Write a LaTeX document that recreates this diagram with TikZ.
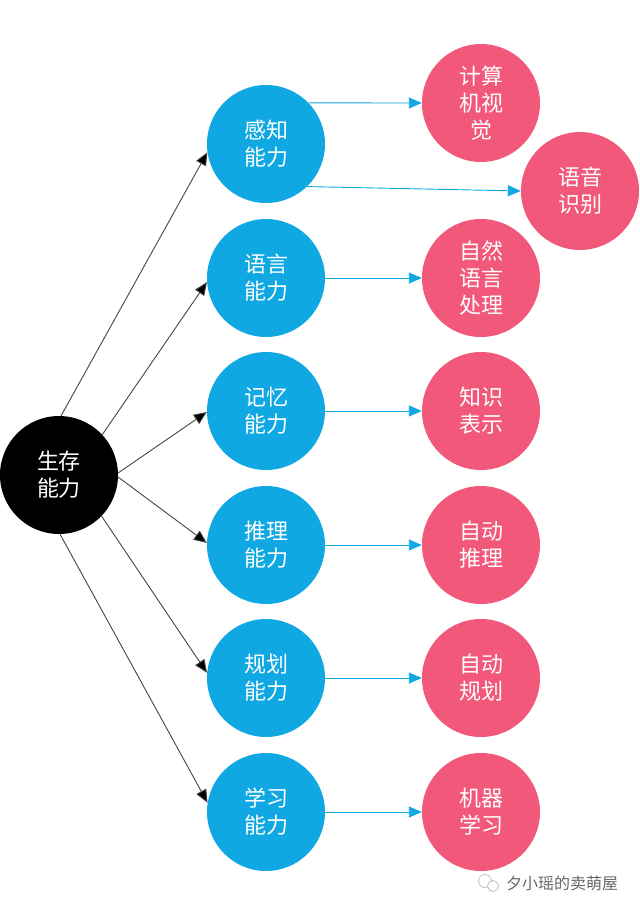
\documentclass[tikz,border=0pt]{standalone}
\usepackage{fontspec}
\newfontfamily\cjk{Noto Sans CJK SC}
\usetikzlibrary{arrows.meta}
\definecolor{bblue}{RGB}{16,168,226}
\definecolor{ppink}{RGB}{242,88,122}
\definecolor{lgray}{RGB}{68,68,68}
\tikzset{
  circ/.style={circle,minimum size=118pt,inner sep=0pt,align=center,text=white,
    font=\cjk\fontsize{22}{27}\selectfont},
  blk/.style={circ,fill=black},
  blu/.style={circ,fill=bblue},
  pnk/.style={circ,fill=ppink},
  karrow/.style={draw=lgray,line width=0.9pt,-{Triangle[length=13pt,width=11pt,fill=black]}},
  barrow/.style={draw=bblue,line width=0.9pt,-{Triangle[length=13pt,width=11pt,fill=bblue]}},
}
\begin{document}
\begin{tikzpicture}[x=1pt,y=-1pt]
\useasboundingbox (0,0) rectangle (640,911);
\node[blk] (bk) at (59,475) {生存\\能力};
\node[blu] (b1) at (266,144) {感知\\能力};
\node[blu] (b2) at (266,278) {语言\\能力};
\node[blu] (b3) at (266,411) {记忆\\能力};
\node[blu] (b4) at (266,545) {推理\\能力};
\node[blu] (b5) at (266,678) {规划\\能力};
\node[blu] (b6) at (266,812) {学习\\能力};
\node[pnk] (p1) at (481,103) {计算\\机视\\觉};
\node[pnk] (p2) at (580,191) {语音\\识别};
\node[pnk] (p3) at (481,278) {自然\\语言\\处理};
\node[pnk] (p4) at (481,411) {知识\\表示};
\node[pnk] (p5) at (481,545) {自动\\推理};
\node[pnk] (p6) at (481,678) {自动\\规划};
\node[pnk] (p7) at (481,812) {机器\\学习};
\draw[karrow] (bk.88) -- (b1.188);
\draw[karrow] (bk.43) -- (b2.184);
\draw[karrow] (bk.2) -- (b3.181);
\draw[karrow] (bk.-2) -- (b4.178);
\draw[karrow] (bk.-44) -- (b5.175);
\draw[karrow] (bk.-89) -- (b6.171);
\draw[barrow] (b1.44) -- (p1.west);
\draw[barrow] (b1.-46) -- (p2.west);
\draw[barrow] (b2.east) -- (p3.west);
\draw[barrow] (b3.east) -- (p4.west);
\draw[barrow] (b4.east) -- (p5.west);
\draw[barrow] (b5.east) -- (p6.west);
\draw[barrow] (b6.east) -- (p7.west);
\coordinate (ic) at (489,883);
\draw[gray!50,line width=0.8pt] ([shift={(-4,-2)}]ic) circle (6.5);
\draw[gray!50,line width=0.8pt,fill=white] ([shift={(4,3)}]ic) circle (5.5);
\node[font=\cjk\fontsize{16}{18}\selectfont,text=gray!80!black,anchor=west,inner sep=0pt] (wm) at (506,883) {夕小瑶的卖萌屋};
\end{tikzpicture}
\end{document}
